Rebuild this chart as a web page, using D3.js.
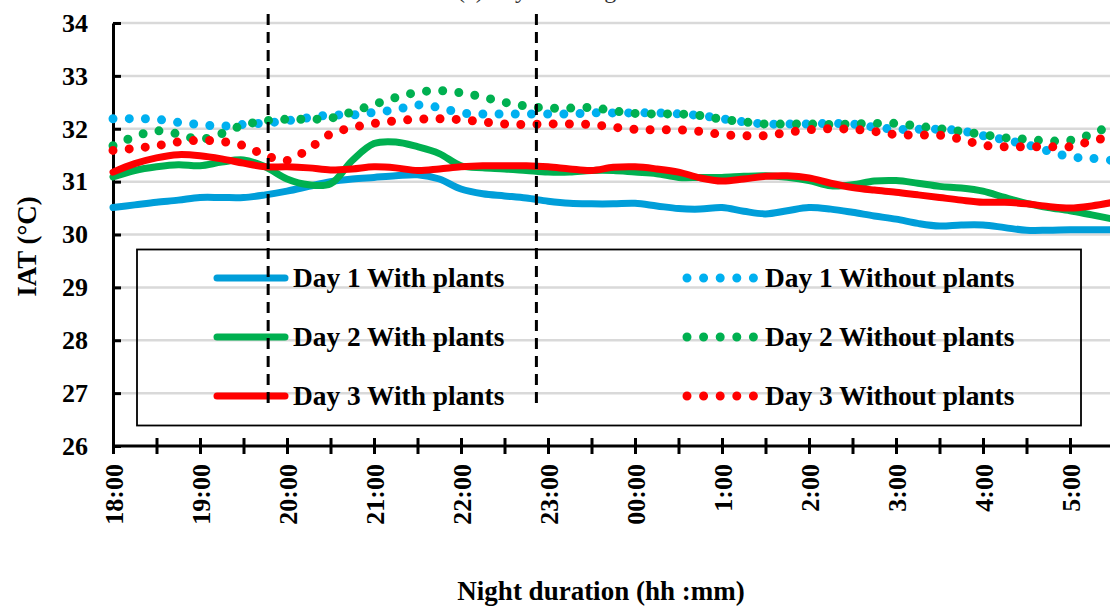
<!DOCTYPE html>
<html>
<head>
<meta charset="utf-8">
<script src="https://cdn.jsdelivr.net/npm/d3@7"></script>
<style>
  html, body { margin: 0; padding: 0; background: #ffffff; }
  svg { display: block; font-family: "Liberation Serif", "Times New Roman", serif; }
</style>
</head>
<body>
<svg id="chart" width="1110" height="607"></svg>
<script>
// Sample times, minutes after 18:00 (every 15 min up to 05:30)
const minutes = [0, 15, 30, 45, 60, 75, 90, 105, 120, 135, 150, 165, 180, 195, 210, 225,
  240, 255, 270, 285, 300, 315, 330, 345, 360, 375, 390, 405, 420, 435, 450, 465,
  480, 495, 510, 525, 540, 555, 570, 585, 600, 615, 630, 645, 660, 675, 690];

// Hour labels on the time axis and where they sit (minutes after 18:00)
const hourLabels = ["18:00", "19:00", "20:00", "21:00", "22:00", "23:00", "00:00",
  "1:00", "2:00", "3:00", "4:00", "5:00"];
const hourMinutes = [0, 60, 120, 180, 240, 300, 360, 420, 480, 540, 600, 660];
const halfHourTicks = [0, 30, 60, 90, 120, 150, 180, 210, 240, 270, 300, 330, 360, 390,
  420, 450, 480, 510, 540, 570, 600, 630, 660];

const yTicks = [26, 27, 28, 29, 30, 31, 32, 33, 34];

// Reference times marked with dashed vertical lines
const markerMinutes = [107, 292];

// Indoor air temperature (°C)
const day1With = [30.51, 30.56, 30.61, 30.65, 30.70, 30.70, 30.70, 30.75, 30.82, 30.91,
  31.00, 31.05, 31.08, 31.11, 31.13, 31.05, 30.86, 30.77, 30.73, 30.69, 30.63, 30.59,
  30.58, 30.58, 30.59, 30.54, 30.49, 30.48, 30.51, 30.44, 30.39, 30.45, 30.51, 30.48,
  30.42, 30.35, 30.29, 30.21, 30.16, 30.18, 30.18, 30.13, 30.08, 30.08, 30.09, 30.09, 30.09];
const day1Without = [32.19, 32.19, 32.18, 32.12, 32.08, 32.05, 32.08, 32.11, 32.15, 32.21,
  32.26, 32.26, 32.31, 32.36, 32.45, 32.40, 32.30, 32.28, 32.28, 32.28, 32.28, 32.28,
  32.30, 32.30, 32.30, 32.30, 32.28, 32.25, 32.19, 32.13, 32.09, 32.09, 32.09, 32.10,
  32.09, 32.03, 31.99, 31.99, 31.99, 31.96, 31.87, 31.79, 31.70, 31.58, 31.47, 31.44, 31.40];
const day2With = [31.09, 31.21, 31.28, 31.32, 31.30, 31.37, 31.41, 31.28, 31.05, 30.94,
  30.96, 31.40, 31.72, 31.75, 31.66, 31.53, 31.30, 31.26, 31.24, 31.21, 31.18, 31.18,
  31.21, 31.21, 31.18, 31.15, 31.08, 31.08, 31.08, 31.10, 31.11, 31.08, 31.02, 30.92,
  30.94, 31.01, 31.02, 30.97, 30.91, 30.88, 30.82, 30.70, 30.59, 30.51, 30.45, 30.37, 30.29];
const day2Without = [31.68, 31.85, 31.96, 31.90, 31.80, 31.91, 32.07, 32.15, 32.18, 32.18,
  32.20, 32.32, 32.46, 32.59, 32.69, 32.72, 32.68, 32.60, 32.50, 32.43, 32.39, 32.39,
  32.40, 32.34, 32.29, 32.28, 32.28, 32.25, 32.18, 32.13, 32.09, 32.09, 32.09, 32.08,
  32.09, 32.10, 32.10, 32.05, 32.00, 31.95, 31.89, 31.83, 31.80, 31.77, 31.78, 31.90, 32.09];
const day3With = [31.18, 31.34, 31.45, 31.51, 31.49, 31.43, 31.35, 31.28, 31.28, 31.26,
  31.22, 31.24, 31.28, 31.26, 31.21, 31.24, 31.28, 31.30, 31.30, 31.30, 31.28, 31.24,
  31.21, 31.27, 31.28, 31.24, 31.18, 31.07, 31.01, 31.05, 31.10, 31.11, 31.07, 30.97,
  30.89, 30.84, 30.80, 30.75, 30.70, 30.65, 30.61, 30.61, 30.58, 30.53, 30.50, 30.54, 30.61];
const day3Without = [31.59, 31.63, 31.68, 31.75, 31.78, 31.76, 31.68, 31.50, 31.40, 31.62,
  31.90, 32.02, 32.10, 32.15, 32.18, 32.19, 32.17, 32.13, 32.09, 32.08, 32.09, 32.09,
  32.08, 32.03, 31.99, 31.98, 31.98, 31.95, 31.89, 31.87, 31.87, 31.93, 31.98, 32.00,
  31.99, 31.95, 31.89, 31.88, 31.88, 31.80, 31.69, 31.66, 31.66, 31.66, 31.66, 31.77, 31.86];

const seriesNames = ["Day 1 With plants", "Day 1 Without plants", "Day 2 With plants",
  "Day 2 Without plants", "Day 3 With plants", "Day 3 Without plants"];
const seriesValues = [day1With, day1Without, day2With, day2Without, day3With, day3Without];
const seriesColors = ["#009ED9", "#00B0F0", "#00B050", "#00B050", "#FF0000", "#FF0000"];
const seriesDotted = [false, true, false, true, false, true];

const W = 1110, H = 607;
const svg = d3.select("#chart");

const x = d3.scaleLinear().domain([0, 690]).range([113, 1113.5]);
const y = d3.scaleLinear().domain([26, 34]).range([446, 23]);

// clip to the plotting area
svg.append("defs").append("clipPath").attr("id", "plot-clip")
  .append("rect").attr("x", 100).attr("y", 0).attr("width", W - 100).attr("height", 450);

// panel heading, sitting mostly above the top edge
svg.append("text")
  .attr("x", 457).attr("y", -2)
  .attr("font-size", 24).attr("fill", "#333")
  .text("(c) Layout C nighttime IAT");

// horizontal gridlines
svg.append("g").selectAll("line")
  .data(yTicks.filter(v => v > 26))
  .join("line")
  .attr("x1", x(0)).attr("x2", W)
  .attr("y1", d => y(d)).attr("y2", d => y(d))
  .attr("stroke", "#d9d9d9").attr("stroke-width", 2.5);

// legend frame (no fill)
const legend = svg.append("g");
legend.append("rect")
  .attr("x", 137).attr("y", 249.5).attr("width", 944).attr("height", 176)
  .attr("fill", "none").attr("stroke", "#000").attr("stroke-width", 1.8);

// y axis
const yAxis = svg.append("g")
  .attr("transform", `translate(${x(0)},0)`)
  .call(d3.axisLeft(y).tickValues(yTicks).tickFormat(d3.format("d"))
    .tickSizeInner(-8).tickSizeOuter(0).tickPadding(25));
yAxis.select(".domain").attr("stroke", "#000").attr("stroke-width", 3);
yAxis.selectAll(".tick line").attr("stroke", "#000").attr("stroke-width", 3);
yAxis.selectAll(".tick text")
  .attr("font-size", 26).attr("font-weight", "bold").attr("fill", "#000")
  .attr("font-family", "Liberation Serif, serif");

// x axis
const xAxis = svg.append("g")
  .attr("transform", `translate(0,${y(26)})`)
  .call(d3.axisBottom(x).tickValues(halfHourTicks)
    .tickFormat(d => { const i = hourMinutes.indexOf(d); return i >= 0 ? hourLabels[i] : ""; })
    .tickSizeInner(8).tickSizeOuter(0));
xAxis.select(".domain").attr("stroke", "#000").attr("stroke-width", 3)
  .attr("d", `M${x(0)},0H${W}`);
xAxis.selectAll(".tick line").attr("y1", -8).attr("y2", 8)
  .attr("stroke", "#000").attr("stroke-width", 3);
xAxis.selectAll(".tick text")
  .attr("font-size", 26).attr("font-weight", "bold").attr("fill", "#000")
  .attr("font-family", "Liberation Serif, serif")
  .attr("text-anchor", "end")
  .attr("transform", "rotate(-90)")
  .attr("x", -18).attr("y", 0).attr("dy", "0.35em");

// axis titles
svg.append("text")
  .attr("transform", `translate(36,${(y(26) + y(34)) / 2 + 12}) rotate(-90)`)
  .attr("text-anchor", "middle")
  .attr("font-size", 27).attr("font-weight", "bold")
  .text("IAT (°C)");
svg.append("text")
  .attr("x", 601).attr("y", 600)
  .attr("text-anchor", "middle")
  .attr("font-size", 27).attr("font-weight", "bold")
  .text("Night duration (hh :mm)");

// series
const line = d3.line()
  .x((d, i) => x(minutes[i]))
  .y(d => y(d))
  .curve(d3.curveCatmullRom.alpha(0.5));

const plot = svg.append("g").attr("clip-path", "url(#plot-clip)");
seriesValues.forEach((vals, k) => {
  const p = plot.append("path")
    .datum(vals)
    .attr("d", line)
    .attr("fill", "none")
    .attr("stroke", seriesColors[k])
    .attr("stroke-linecap", "round")
    .attr("stroke-linejoin", "round");
  if (seriesDotted[k]) {
    p.attr("stroke-width", 9).attr("stroke-dasharray", "0 16.2");
  } else {
    p.attr("stroke-width", 7);
  }
});

// dashed reference lines
svg.append("g").selectAll("line")
  .data(markerMinutes)
  .join("line")
  .attr("x1", d => x(d)).attr("x2", d => x(d))
  .attr("y1", 14).attr("y2", 404)
  .attr("stroke", "#000").attr("stroke-width", 3)
  .attr("stroke-dasharray", "11 7");

// legend entries: with-plants in the left column, without-plants in the right
const rowY = [278, 337, 396];
seriesNames.forEach((name, k) => {
  const col = seriesDotted[k] ? 1 : 0;
  const row = Math.floor(k / 2);
  const yy = rowY[row];
  if (col === 0) {
    legend.append("line")
      .attr("x1", 217).attr("x2", 285).attr("y1", yy).attr("y2", yy)
      .attr("stroke", seriesColors[k]).attr("stroke-width", 7)
      .attr("stroke-linecap", "round");
    legend.append("text")
      .attr("x", 293).attr("y", yy).attr("dy", "0.33em")
      .attr("font-size", 27.4).attr("font-weight", "bold")
      .text(name);
  } else {
    legend.append("line")
      .attr("x1", 687).attr("x2", 755).attr("y1", yy).attr("y2", yy)
      .attr("stroke", seriesColors[k]).attr("stroke-width", 9)
      .attr("stroke-linecap", "round").attr("stroke-dasharray", "0 16.6");
    legend.append("text")
      .attr("x", 765).attr("y", yy).attr("dy", "0.33em")
      .attr("font-size", 27.4).attr("font-weight", "bold")
      .text(name);
  }
});
</script>
</body>
</html>
